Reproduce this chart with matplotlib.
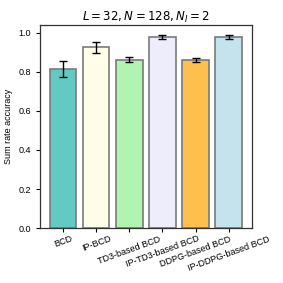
import matplotlib.pyplot as plt
from matplotlib.colors import to_rgba

methods = ["BCD", "IP-BCD", "TD3-based BCD", "IP-TD3-based BCD",
           "DDPG-based BCD", "IP-DDPG-based BCD"]
accuracy = [0.815, 0.925, 0.862, 0.978, 0.860, 0.978]
errors = [0.040, 0.028, 0.014, 0.010, 0.011, 0.009]
colors = ["lightseagreen", "lightyellow", "lightgreen", "lavender",
          "orange", "lightblue"]

plt.rcParams['font.family'] = ['Liberation Sans', 'DejaVu Sans']

fig = plt.figure(figsize=(2.83, 2.83), dpi=100)
ax = fig.add_axes([0.141, 0.194, 0.749, 0.718])

x = range(len(methods))
ax.bar(x, accuracy, width=0.8, color=[to_rgba(c, 0.7) for c in colors],
       edgecolor="#7a7a7a", linewidth=1.2,
       yerr=errors, capsize=3, error_kw=dict(elinewidth=1.0, capthick=1.0, ecolor="black"))

ax.set_xlim(-0.7, 5.7)
ax.set_ylim(0, 1.04)
ax.set_yticks([0.0, 0.2, 0.4, 0.6, 0.8, 1.0])
ax.set_xticks(list(x))
ax.set_xticklabels(methods, rotation=20, ha="center", fontsize=6.5)
ax.tick_params(axis="y", labelsize=6.5, length=3, width=0.8)
ax.tick_params(axis="x", length=3, width=0.8, pad=1.5)
ax.set_ylabel("Sum rate accuracy", fontsize=6.5)
ax.set_title(r"$L=32, N=128, N_I=2$", fontsize=8.5, pad=3)
for s in ax.spines.values():
    s.set_color("#333333")
    s.set_linewidth(0.9)

fig.savefig("out.png", dpi=100)
